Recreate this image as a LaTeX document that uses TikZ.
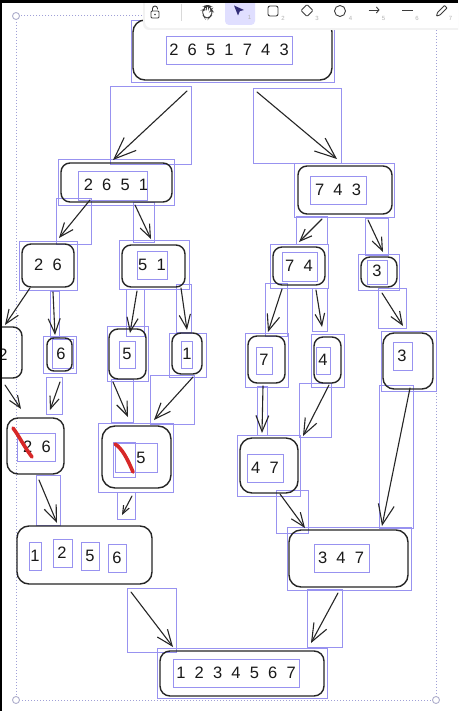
\documentclass[tikz,border=0pt]{standalone}
\usepackage{fontspec}
\setmainfont{Liberation Sans}
\usetikzlibrary{arrows.meta}
\definecolor{selc}{RGB}{152,146,240}
\definecolor{dotc}{RGB}{160,160,215}
\definecolor{hdl}{RGB}{175,175,205}
\definecolor{redm}{RGB}{215,40,40}
\definecolor{tbc}{RGB}{60,60,60}
\definecolor{tbhl}{RGB}{224,223,255}
\definecolor{tbpt}{RGB}{50,45,120}
% rectangle node: [style]{name}{x1}{y1}{x2}{y2}
\newcommand\rb[6][]{\node[#1,minimum width={(#5)-(#3)},minimum height={(#6)-(#4)}] (#2) at ({((#3)+(#5))/2},{((#4)+(#6))/2}) {};}
\newcommand\dg[1]{{\spaceskip=9.2pt plus 0pt minus 0pt\relax #1}}
\begin{document}
\begin{tikzpicture}[x=1pt,y=-1pt,
  bx/.style={draw=black!85,line width=1.4pt,rounded corners=9pt,inner sep=0pt,outer sep=0pt},
  sel/.style={draw=selc,line width=0.9pt,inner sep=0pt,outer sep=0pt},
  txt/.style={inner sep=0pt,text=black!90,font=\fontsize{16.5}{18}\selectfont},
  arr/.style={draw=black!85,line width=1.1pt,line cap=round,-{Straight Barb[length=#1pt,width'=0pt 0.8]}},
  redstroke/.style={draw=redm,line width=3.6pt,line cap=round},
  tbicon/.style={draw=tbc,line width=0.9pt},
  tbnum/.style={text=gray!60,font=\fontsize{6}{7}\selectfont,inner sep=0pt},
  handle/.style={circle,draw=hdl,fill=white,line width=0.9pt,minimum size=7pt,inner sep=0pt}]
\clip (0,0) rectangle (458,711);
\fill[white] (0,0) rectangle (458,711);

% selection outline
\coordinate (d1) at (16,16);
\coordinate (d2) at (436,700);
\draw[dotc,dotted,line width=1pt] (d1) rectangle (d2);

% purple selection boxes (nodes)
\rb[sel]{stop}{131}{20}{334}{82}
\rb[sel]{s2651}{58}{159}{174}{205}
\rb[sel]{s743}{294}{163}{394}{217}
\rb[sel]{s26}{19}{241}{77}{290}
\rb[sel]{s51}{119}{240}{189}{289}
\rb[sel]{s74}{270}{244}{328}{288}
\rb[sel]{s3a}{358}{254}{399}{290}
\rb[sel]{s6}{43}{336}{76}{373}
\rb[sel]{s5}{107}{326}{148}{381}
\rb[sel]{s1}{169}{333}{206}{377}
\rb[sel]{s7}{245}{333}{288}{387}
\rb[sel]{s4}{311}{334}{344}{387}
\rb[sel]{s3b}{381}{331}{436}{391}
\rb[sel]{s15}{98}{423}{173}{492}
\rb[sel]{s47}{237}{435}{300}{496}
\rb[sel]{s347}{287}{527}{411}{590}
\rb[sel]{sfin}{157}{648}{327}{698}
% inner text boxes
\rb[sel]{itop}{166}{36}{292}{64}
\rb[sel]{i2651}{78}{171}{147}{200}
\rb[sel]{i743}{310}{176}{366}{204}
\rb[sel]{i51}{137}{251}{167}{279}
\rb[sel]{i74}{282}{252}{317}{281}
\rb[sel]{i3a}{367}{260}{387}{284}
\rb[sel]{i6}{52}{339}{73}{368}
\rb[sel]{i5}{119}{341}{135}{368}
\rb[sel]{i1}{181}{341}{192}{368}
\rb[sel]{i7}{256}{347}{272}{374}
\rb[sel]{i4}{316}{347}{330}{374}
\rb[sel]{i3b}{393}{342}{412}{370}
\rb[sel]{i26m}{17}{433}{55}{461}
\rb[sel]{i15}{115}{443}{157}{472}
\rb[sel]{i15r}{113}{442}{135}{477}
\rb[sel]{i47}{247}{454}{283}{482}
\rb[sel]{ia}{29}{542}{41}{570}
\rb[sel]{ib}{53}{539}{72}{567}
\rb[sel]{ic}{81}{542}{99}{570}
\rb[sel]{id}{108}{544}{126}{572}
\rb[sel]{i347}{314}{544}{369}{572}
\rb[sel]{ifin}{173}{659}{299}{687}
% arrow selection boxes
\rb[sel]{x1}{110}{86}{191}{164}
\rb[sel]{x2}{253}{88}{341}{163}
\rb[sel]{x3}{56}{198}{91}{244}
\rb[sel]{x4}{133}{202}{154}{242}
\rb[sel]{x5}{296}{216}{327}{244}
\rb[sel]{x6}{365}{218}{388}{255}
\rb[sel]{x7}{50}{291}{59}{337}
\rb[sel]{x8}{126}{289}{144}{336}
\rb[sel]{x9}{176}{284}{191}{332}
\rb[sel]{x10}{265}{283}{287}{336}
\rb[sel]{x11}{312}{288}{327}{331}
\rb[sel]{x12}{378}{288}{406}{328}
\rb[sel]{x13}{46}{377}{62}{414}
\rb[sel]{x14}{111}{379}{133}{422}
\rb[sel]{x15}{150}{375}{194}{424}
\rb[sel]{x16}{257}{386}{267}{435}
\rb[sel]{x17}{299}{383}{331}{437}
\rb[sel]{x18}{379}{385}{413}{528}
\rb[sel]{x19}{117}{492}{135}{519}
\rb[sel]{x20}{36}{475}{60}{525}
\rb[sel]{x21}{276}{490}{308}{533}
\rb[sel]{x22}{127}{588}{176}{652}
\rb[sel]{x23}{307}{589}{342}{647}

% black rounded boxes
\rb[bx,rounded corners=12pt]{top}{133}{20}{332}{80}
\rb[bx]{b2651}{61}{163}{172}{202}
\rb[bx]{b743}{298}{166}{392}{214}
\rb[bx]{b26}{22}{244}{74}{287}
\rb[bx]{b51}{122}{245}{185}{287}
\rb[bx]{b74}{273}{247}{325}{285}
\rb[bx]{b3a}{361}{257}{397}{287}
\rb[bx]{b2}{-30}{327}{22}{378}
\rb[bx,rounded corners=7pt]{b6}{47}{338}{72}{371}
\rb[bx]{b5}{109}{329}{146}{379}
\rb[bx]{b1}{172}{333}{202}{374}
\rb[bx]{b7}{248}{336}{285}{383}
\rb[bx]{b4}{314}{337}{341}{383}
\rb[bx,rounded corners=11pt]{b3b}{383}{333}{433}{389}
\rb[bx,rounded corners=11pt]{b26m}{7}{418}{64}{474}
\rb[bx,rounded corners=13pt]{b15}{102}{426}{171}{488}
\rb[bx,rounded corners=12pt]{b47}{240}{438}{298}{493}
\rb[bx,rounded corners=12pt]{b1256}{17}{526}{152}{584}
\rb[bx,rounded corners=12pt]{b347}{289}{530}{408}{587}
\rb[bx,rounded corners=10pt]{bfin}{160}{651}{324}{696}

% texts
\node[txt] (ttop) at (229,50) {\dg{2 6 5 1 7 4 3}};
\node[txt] (t2651) at (116,185) {\dg{2 6 5 1}};
\node[txt] (t743) at (338,190) {\dg{7 4 3}};
\node[txt] (t26) at (48,265) {\dg{2 6}};
\node[txt] (t51) at (152,265) {\dg{5 1}};
\node[txt] (t74) at (299,266) {\dg{7 4}};
\node[txt] (t3a) at (377,271) {3};
\node[txt] (t2) at (3,355) {2};
\node[txt] (t6) at (61,354) {6};
\node[txt] (t5) at (127,354) {5};
\node[txt] (t1) at (187,354) {1};
\node[txt] (t7) at (264,360) {7};
\node[txt] (t4) at (323,360) {4};
\node[txt] (t3b) at (402,356) {3};
\node[txt] (t26m) at (37,447) {\dg{2 6}};
\node[txt] (t15) at (141,458) {5};
\node[txt] (t47) at (265,468) {\dg{4 7}};
\node[txt] (ta) at (35,556) {1};
\node[txt] (tb) at (62,553) {2};
\node[txt] (tc) at (90,556) {5};
\node[txt] (td) at (117,558) {6};
\node[txt] (t347) at (341,558) {\dg{3 4 7}};
\node[txt] (tfin) at (236,673) {\dg{1 2 3 4 5 6 7}};

% arrows
\coordinate (p1) at (187,91);   \coordinate (q1) at (113,160);
\coordinate (p2) at (257,92);   \coordinate (q2) at (337,159);
\coordinate (p3) at (90,200);   \coordinate (q3) at (59,238);
\coordinate (p4) at (135,205);  \coordinate (q4) at (151,239);
\coordinate (p5) at (322,219);  \coordinate (q5) at (299,242);
\coordinate (p6) at (368,220);  \coordinate (q6) at (383,252);
\coordinate (p7) at (30,288);   \coordinate (q7) at (5,325);
\coordinate (p8) at (53,292);   \coordinate (q8) at (55,335);
\coordinate (p9) at (137,291);  \coordinate (q9) at (130,333);
\coordinate (p10) at (181,288); \coordinate (q10) at (187,330);
\coordinate (p11) at (282,289); \coordinate (q11) at (268,332);
\coordinate (p12) at (316,290); \coordinate (q12) at (322,327);
\coordinate (p13) at (382,293); \coordinate (q13) at (403,326);
\coordinate (p14) at (5,385);   \coordinate (q14) at (21,409);
\coordinate (p15) at (60,382);  \coordinate (q15) at (50,410);
\coordinate (p16) at (113,382); \coordinate (q16) at (128,417);
\coordinate (p17) at (193,377); \coordinate (q17) at (154,420);
\coordinate (p18) at (263,386); \coordinate (q18) at (262,433);
\coordinate (p19) at (329,385); \coordinate (q19) at (303,436);
\coordinate (p20) at (410,388); \coordinate (q20) at (382,526);
\coordinate (p21) at (132,496); \coordinate (q21) at (122,515);
\coordinate (p22) at (39,480);  \coordinate (q22) at (57,523);
\coordinate (p23) at (280,494); \coordinate (q23) at (305,528);
\coordinate (p24) at (131,592); \coordinate (q24) at (173,647);
\coordinate (p25) at (338,593); \coordinate (q25) at (311,643);
\draw[arr=22] (p1) -- (q1);
\draw[arr=21] (p2) -- (q2);
\draw[arr=14] (p3) -- (q3);
\draw[arr=13] (p4) -- (q4);
\draw[arr=12] (p5) -- (q5);
\draw[arr=13] (p6) -- (q6);
\draw[arr=14] (p7) -- (q7);
\draw[arr=15] (p8) -- (q8);
\draw[arr=14] (p9) -- (q9);
\draw[arr=14] (p10) -- (q10);
\draw[arr=16] (p11) -- (q11);
\draw[arr=12] (p12) -- (q12);
\draw[arr=13] (p13) -- (q13);
\draw[arr=12] (p14) -- (q14);
\draw[arr=12] (p15) -- (q15);
\draw[arr=14] (p16) -- (q16);
\draw[arr=16] (p17) -- (q17);
\draw[arr=16] (p18) -- (q18);
\draw[arr=16] (p19) -- (q19);
\draw[arr=20] (p20) -- (q20);
\draw[arr=8] (p21) -- (q21);
\draw[arr=16] (p22) -- (q22);
\draw[arr=14] (p23) -- (q23);
\draw[arr=16] (p24) -- (q24);
\draw[arr=18] (p25) -- (q25);

% red strike marks
\coordinate (r1a) at (13,428); \coordinate (r1b) at (32,457);
\coordinate (r2a) at (115,444); \coordinate (r2b) at (133,472);
\draw[redstroke] (r1a) .. controls (19,436) and (25,448) .. (r1b);
\draw[redstroke] (r2a) .. controls (122,448) and (128,460) .. (r2b);

% handles
\node[handle] (h1) at (d1) {};
\node[handle] (h2) at (16,700) {};
\node[handle] (h3) at (d2) {};

% toolbar
\fill[gray!10,rounded corners=6pt] (143,-8) rectangle (475,30);
\fill[white,rounded corners=6pt] (145,-8) rectangle (475,28);
\fill[tbhl,rounded corners=4pt] (225,-4) rectangle (255,25);
% lock
\draw[tbicon,rounded corners=1pt] (151,11) rectangle (159,18);
\draw[tbicon] (152.5,11) -- (152.5,8.5) arc (180:360:2.5) -- (157.5,9.5);
\fill[tbc] (155,14.5) circle (0.9);
% separator
\draw[gray!30,line width=0.6pt] (181,4) -- (181,21);
% hand
\draw[tbicon,rounded corners=2pt] (203,15) -- (202.5,10) -- (204.5,10) -- (204.5,6.5) -- (206.5,6.5) -- (206.5,9.5) -- (206.5,5.5) -- (208.5,5.5) -- (208.5,9.5) -- (208.5,6.5) -- (210.5,6.5) -- (210.5,11) -- (211.5,9.5) -- (212.5,11) -- (211,16) -- (209,18) -- (205,18) -- cycle;
% pointer
\fill[tbpt] (234,5.5) -- (244,10) -- (239.8,11.2) -- (238,15.5) -- cycle;
\node[tbnum] (n1) at (249.5,17) {1};
% rectangle
\draw[tbicon,rounded corners=2pt] (268,6) rectangle (278,16);
\node[tbnum] (n2) at (283,18) {2};
% diamond
\draw[tbicon,rounded corners=1pt] (307,4.5) -- (313,10.5) -- (307,16.5) -- (301,10.5) -- cycle;
\node[tbnum] (n3) at (317,18) {3};
% circle
\draw[tbicon] (340,11) circle (5.5);
\node[tbnum] (n4) at (350.5,18) {4};
% arrow
\draw[tbicon,-{Straight Barb[length=2.5pt,width=6pt]}] (368.5,10) -- (379.5,10);
\node[tbnum] (n5) at (383.5,18) {5};
% line
\draw[tbicon] (402,10.5) -- (413,10.5);
\node[tbnum] (n6) at (417,18) {6};
% pencil
\draw[tbicon,rounded corners=0.6pt] (436.5,16) -- (437.5,12.5) -- (444.5,5.5) -- (447,8) -- (440,15) -- cycle;
\node[tbnum] (n7) at (450.5,18) {7};

% window edges
\fill[black] (0,0) rectangle (458,3);
\fill[black] (0,0) rectangle (2,711);
\end{tikzpicture}
\end{document}
